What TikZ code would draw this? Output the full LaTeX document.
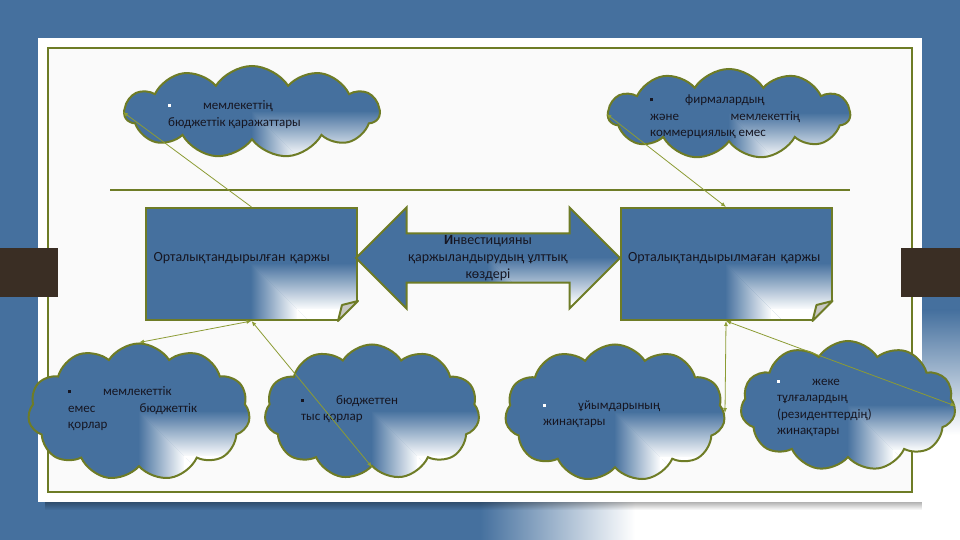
\documentclass[tikz,border=0pt]{standalone}
\usepackage{fontspec}
\setmainfont{Carlito}
\usetikzlibrary{shapes.symbols,shapes.arrows,arrows.meta,fadings}

\definecolor{slideblue}{RGB}{69,112,158}
\definecolor{frameolive}{RGB}{110,124,38}
\definecolor{linkolive}{RGB}{140,156,52}
\definecolor{barbrown}{RGB}{58,46,36}
\definecolor{inktext}{RGB}{22,22,34}
\definecolor{foldgray}{RGB}{200,200,195}
\definecolor{panelwhite}{RGB}{250,250,250}

\newcommand{\sqbul}[1]{\textcolor{#1}{\raisebox{2.5pt}{\rule{3pt}{3pt}}}\hspace{32pt}}

\tikzset{
  glow/.style={path picture={
      \coordinate (gc) at (path picture bounding box.center);
      \begin{scope}
        \clip (gc) -- ++(400,-400) -- ++(-400,0) -- cycle;
        \shade[left color=slideblue, right color=white] ([shift={(-1,1)}]gc) rectangle ++(47,-402);
        \fill[white] ([xshift=45pt]gc) rectangle ++(400,-400);
      \end{scope}
      \begin{scope}
        \clip (gc) -- ++(400,0) -- ++(0,-400) -- cycle;
        \shade[top color=slideblue, bottom color=white] ([shift={(-1,1)}]gc) rectangle ++(402,-47);
        \fill[white] ([yshift=-45pt]gc) rectangle ++(400,-400);
      \end{scope}
  }},
}

\begin{document}
\begin{tikzpicture}[x=1pt, y=1pt,
    box/.style={rectangle, draw=frameolive, line width=2pt, fill=slideblue, glow, minimum width=211pt, minimum height=112pt, text width=196pt, align=left, text depth=14pt, font=\fontsize{14}{17}\selectfont, text=inktext},
    puff/.style={cloud, cloud puffs=11, cloud puff arc=115, cloud ignores aspect, draw=frameolive, line width=2pt, fill=slideblue, glow, inner sep=0pt},
    cloudtext/.style={anchor=west, align=left, inner sep=0pt, font=\fontsize{13}{16.5}\selectfont, text=inktext},
    oneway/.style={-{Latex[length=5pt,width=4pt]}, draw=linkolive, line width=0.8pt},
    twoway/.style={{Latex[length=5pt,width=4pt]}-{Latex[length=5pt,width=4pt]}, draw=linkolive, line width=0.8pt}
]
\useasboundingbox (0,0) rectangle (960,540);

% Slide background
\fill[slideblue] (0,0) rectangle (960,540);
\shade[left color=slideblue, right color=white] (480,0) rectangle (635,40);
\fill[white] (635,0) rectangle (960,40);
\shade[top color=slideblue, bottom color=white] (922,230) rectangle (960,105);
\fill[white] (922,0) rectangle (960,105);

% Panel and frame
\fill[black, opacity=0.3, path fading=south] (45,38) rectangle (922,30);
\fill[white] (38,38) rectangle (922,502);
\draw[frameolive, line width=2pt, fill=panelwhite] (48,48) rectangle (912,492);
\draw[frameolive, line width=2pt] (110,350) -- (850,350);
\fill[barbrown] (0,243) rectangle (58,292);
\fill[barbrown] (901,243) rectangle (960,292);

% Row 2: the two kinds of funds
\node[box] (central) at (251.5,276) {Орталықтандырылған қаржы};
\node[box] (noncentral) at (726,276) {Орталықтандырылмаған қаржы};
\foreach \b in {central,noncentral}{
  \fill[panelwhite] ([shift={(1,21)}]\b.south east) -- ([shift={(1,-1)}]\b.south east) -- ([shift={(-21,-1)}]\b.south east) -- cycle;
  \draw[frameolive, line width=2pt, fill=foldgray, line join=round] ([yshift=20pt]\b.south east) -- ([xshift=-20pt]\b.south east) -- ([shift={(-16,16)}]\b.south east) -- cycle;
}

\node[double arrow, draw=frameolive, line width=2pt, fill=slideblue, glow, minimum height=264pt, minimum width=101pt, double arrow head extend=25pt, double arrow tip angle=90, inner sep=0pt, align=center, font=\fontsize{14}{17}\selectfont, text=inktext] (invest) at (488,282) {\textbf{И}нвестицияны\\қаржыландырудың ұлттық\\көздері};

% Row 1: sources at the top
\node[puff, minimum width=255pt, minimum height=92pt] (budget) at (252,428) {};
\node[puff, minimum width=242pt, minimum height=90pt] (firms) at (729,426) {};
\node[cloudtext] (budgettxt) at (168,425.5) {\sqbul{white}мемлекеттің\\бюджеттік қаражаттары};
\node[cloudtext] (firmstxt) at (650,423) {\sqbul{inktext}фирмалардың\\\makebox[150pt][s]{және мемлекеттің}\\коммерциялық емес};

% Row 3: sources at the bottom
\node[puff, minimum width=222pt, minimum height=137pt] (nonbudget) at (139,128) {};
\node[puff, minimum width=215pt, minimum height=135pt] (offbudget) at (372,128) {};
\node[puff, minimum width=220pt, minimum height=137pt] (savings) at (615,127) {};
\node[puff, minimum width=215pt, minimum height=130pt] (personal) at (848,134) {};
\node[cloudtext] (nonbudgettxt) at (68,131) {\sqbul{inktext}мемлекеттік\\\makebox[129pt][s]{емес бюджеттік}\\қорлар};
\node[cloudtext] (offbudgettxt) at (301,131) {\sqbul{inktext}бюджеттен\\тыс қорлар};
\node[cloudtext] (savingstxt) at (543,126) {\sqbul{white}ұйымдарының\\жинақтары};
\node[cloudtext] (personaltxt) at (777,132) {\sqbul{white}жеке\\тұлғалардың\\(резиденттердің)\\жинақтары};

% Links
\draw[oneway] (central.north) -- (budget.west);
\draw[twoway] (noncentral.north) -- (firms.west);
\draw[twoway] (central.south) -- (nonbudget.north);
\draw[twoway] (central.south) -- (offbudget.south);
\draw[twoway] (noncentral.south) -- (savings.east);
\draw[twoway] (noncentral.south) -- (personal.east);

\end{tikzpicture}
\end{document}
